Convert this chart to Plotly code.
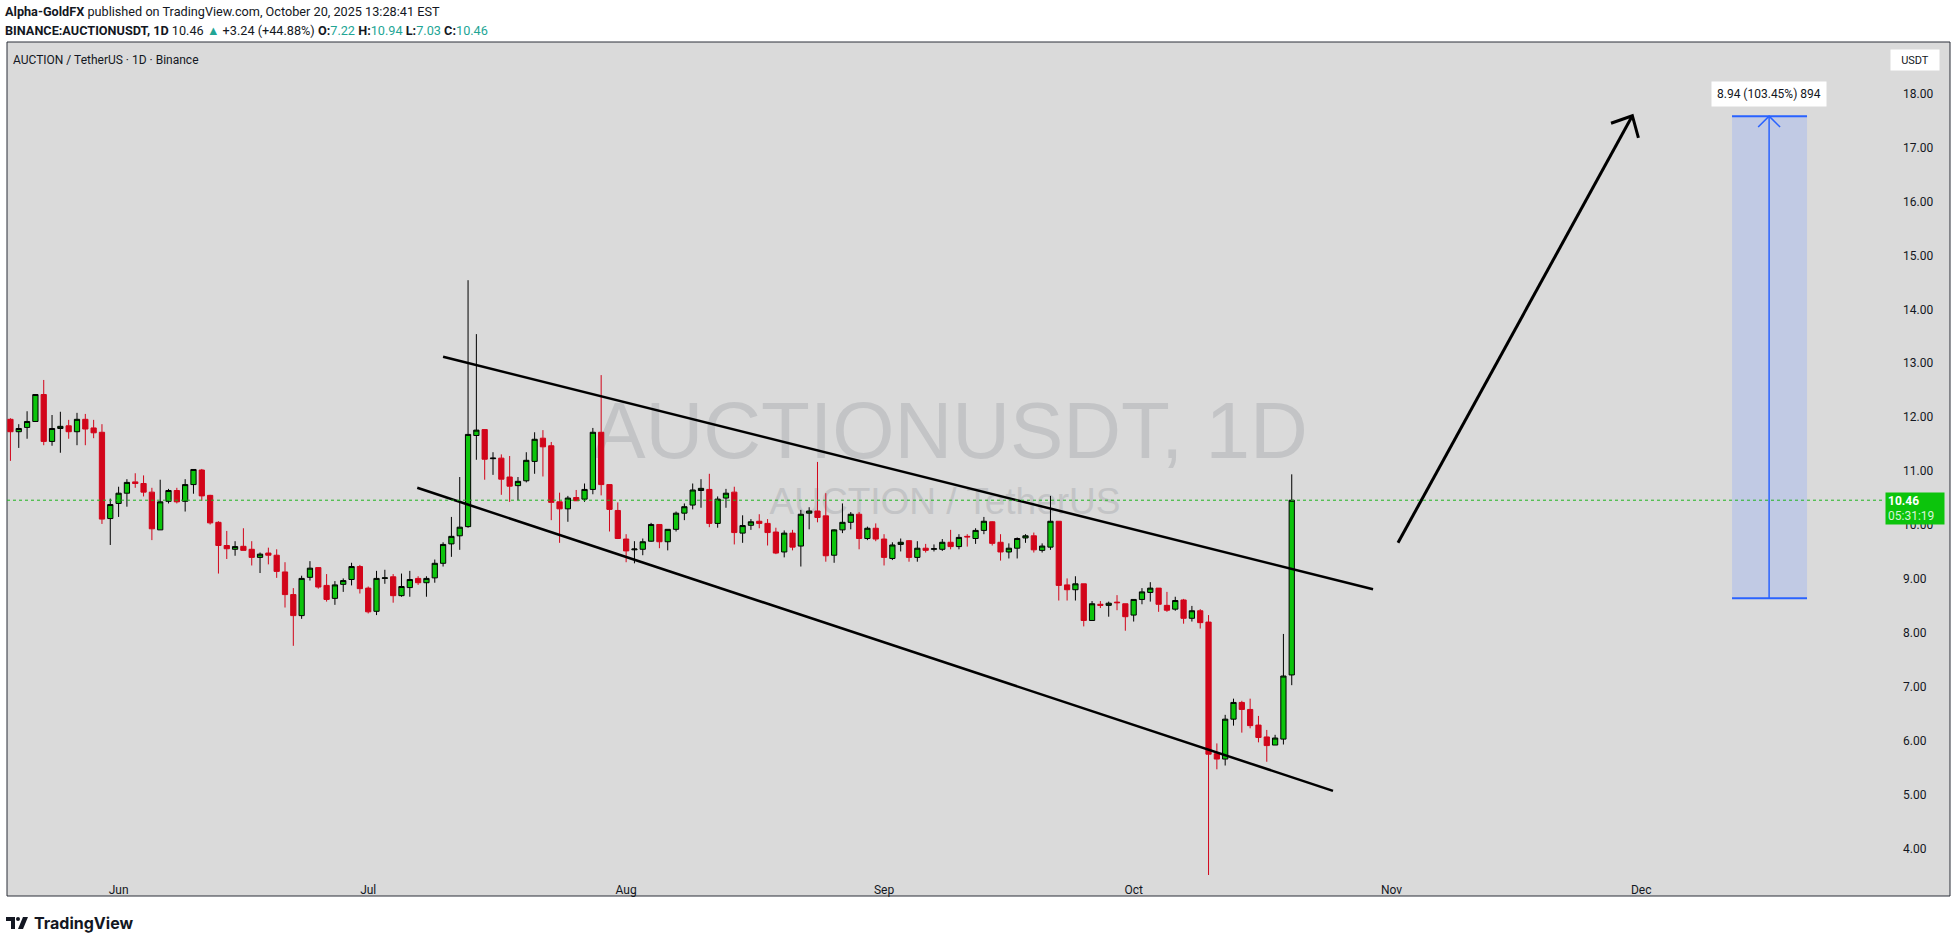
import plotly.graph_objects as go
import pandas as pd

# ── Data ─────────────────────────────────────────────
dates = pd.date_range("2025-05-19", "2025-10-20", freq="D")

opens = [
    11.96, 11.73, 11.81, 11.92, 12.42, 11.55, 11.79, 11.84, 11.73, 11.96,
    11.80, 11.72, 10.12, 10.40, 10.59, 10.80, 10.77, 10.61, 9.91, 10.44,
    10.64, 10.44, 10.75, 11.02, 10.55, 10.05, 9.62, 9.55, 9.605, 9.55,
    9.40, 9.48, 9.44, 9.13, 8.71, 8.32, 9.03, 9.21, 8.88, 8.64,
    8.90, 8.99, 9.23, 8.83, 8.40, 9.01, 9.04, 8.69, 8.84, 9.01,
    8.93, 9.02, 9.29, 9.65, 9.80, 9.97, 11.66, 11.77, 11.23, 11.24,
    10.89, 10.73, 10.82, 11.18, 11.61, 11.47, 10.43, 10.30, 10.51, 10.48,
    10.66, 11.72, 10.75, 10.27, 9.74, 9.54, 9.55, 9.70, 10.01, 9.69,
    9.92, 10.22, 10.37, 10.64, 10.66, 10.03, 10.50, 10.61, 9.85, 9.995,
    10.07, 10.03, 9.87, 9.50, 9.85, 9.61, 10.22, 10.26, 10.17, 9.44,
    9.91, 10.05, 10.20, 9.75, 9.94, 9.74, 9.38, 9.64, 9.71, 9.40,
    9.57, 9.55, 9.55, 9.68, 9.60, 9.79, 9.75, 9.90, 10.06, 9.68,
    9.50, 9.57, 9.76, 9.80, 9.53, 9.59, 10.07, 8.89, 8.80, 8.91,
    8.23, 8.53, 8.51, 8.57, 8.54, 8.33, 8.62, 8.75, 8.83, 8.51,
    8.44, 8.61, 8.27, 8.41, 8.20, 5.76, 5.66, 6.40, 6.71, 6.58,
    6.29, 6.07, 5.92, 6.03, 7.22,
]
highs = [
    11.98, 11.87, 12.11, 12.42, 12.69, 12.04, 12.10, 11.95, 12.08, 12.06,
    11.95, 11.87, 10.49, 10.71, 10.85, 10.96, 10.92, 10.69, 10.84, 10.67,
    10.69, 10.85, 11.03, 11.04, 10.56, 10.07, 9.89, 9.70, 9.94, 9.70,
    9.49, 9.58, 9.55, 9.31, 8.83, 9.06, 9.33, 9.22, 9.09, 8.96,
    9.01, 9.30, 9.26, 8.86, 9.15, 9.17, 9.09, 9.10, 9.15, 9.05,
    9.05, 9.36, 9.68, 10.15, 10.89, 14.54, 13.54, 11.77, 11.35, 11.31,
    11.28, 10.89, 11.35, 11.72, 11.76, 11.54, 10.60, 10.54, 10.65, 10.77,
    11.80, 12.78, 10.75, 10.42, 9.83, 9.70, 9.75, 10.04, 10.01, 9.92,
    10.25, 10.40, 10.77, 10.85, 10.95, 10.53, 10.67, 10.71, 10.18, 10.11,
    10.20, 10.11, 9.95, 9.90, 9.91, 10.28, 10.33, 11.17, 10.59, 9.92,
    10.40, 10.24, 10.24, 9.97, 10.03, 9.83, 9.68, 9.75, 9.72, 9.70,
    9.65, 9.64, 9.74, 9.91, 9.83, 9.83, 9.94, 10.15, 10.07, 9.83,
    9.66, 9.77, 9.83, 9.86, 9.66, 10.54, 10.07, 9.01, 9.05, 8.91,
    8.59, 8.59, 8.58, 8.70, 8.54, 8.62, 8.83, 8.94, 8.83, 8.76,
    8.67, 8.63, 8.50, 8.44, 8.33, 5.95, 6.48, 6.78, 6.74, 6.78,
    6.46, 6.20, 6.11, 7.98, 10.94,
]
lows = [
    11.19, 11.43, 11.60, 11.92, 11.48, 11.47, 11.34, 11.60, 11.48, 11.48,
    11.61, 10.02, 9.63, 10.15, 10.34, 10.69, 10.53, 9.72, 9.91, 10.40,
    10.40, 10.25, 10.58, 10.45, 10.01, 9.10, 9.37, 9.43, 9.53, 9.25,
    9.11, 9.27, 9.02, 8.47, 7.76, 8.26, 8.97, 8.82, 8.58, 8.52,
    8.76, 8.88, 8.73, 8.36, 8.33, 8.91, 8.56, 8.67, 8.67, 8.89,
    8.67, 8.93, 9.23, 9.41, 9.54, 9.95, 11.21, 10.84, 10.93, 10.56,
    10.43, 10.46, 10.79, 10.95, 10.90, 10.09, 9.67, 10.06, 10.45, 10.43,
    10.57, 10.55, 9.88, 9.74, 9.31, 9.29, 9.44, 9.69, 9.57, 9.53,
    9.88, 10.09, 10.29, 10.32, 9.96, 9.95, 10.32, 9.64, 9.67, 9.91,
    9.94, 9.62, 9.46, 9.40, 9.53, 9.23, 9.92, 10.05, 9.32, 9.30,
    9.85, 9.92, 9.55, 9.72, 9.70, 9.25, 9.35, 9.51, 9.32, 9.32,
    9.49, 9.51, 9.52, 9.55, 9.55, 9.60, 9.65, 9.83, 9.62, 9.34,
    9.38, 9.38, 9.67, 9.49, 9.49, 9.54, 8.60, 8.60, 8.60, 8.12,
    8.23, 8.46, 8.30, 8.42, 8.04, 8.21, 8.53, 8.58, 8.39, 8.39,
    8.41, 8.17, 8.21, 8.08, 3.51, 5.47, 5.54, 6.28, 6.15, 6.23,
    5.97, 5.61, 5.92, 5.93, 7.03,
]
closes = [
    11.73, 11.79, 11.92, 12.42, 11.55, 11.79, 11.83, 11.73, 11.96, 11.78,
    11.71, 10.11, 10.38, 10.59, 10.79, 10.77, 10.61, 9.93, 10.43, 10.64,
    10.43, 10.75, 11.03, 10.54, 10.04, 9.62, 9.56, 9.60, 9.53, 9.40,
    9.46, 9.44, 9.14, 8.71, 8.32, 9.01, 9.20, 8.85, 8.62, 8.89,
    8.97, 9.23, 8.82, 8.39, 9.01, 9.02, 8.69, 8.86, 8.99, 8.93,
    9.01, 9.29, 9.64, 9.79, 9.96, 11.68, 11.76, 11.22, 11.24, 10.85,
    10.72, 10.81, 11.20, 11.59, 11.45, 10.42, 10.30, 10.50, 10.45, 10.66,
    11.72, 10.75, 10.29, 9.75, 9.52, 9.555, 9.69, 10.01, 9.69, 9.92,
    10.22, 10.34, 10.65, 10.68, 10.03, 10.48, 10.59, 9.86, 9.99, 10.06,
    10.03, 9.86, 9.48, 9.85, 9.59, 10.20, 10.26, 10.14, 9.43, 9.91,
    10.05, 10.20, 9.75, 9.94, 9.74, 9.40, 9.63, 9.68, 9.40, 9.57,
    9.53, 9.56, 9.68, 9.60, 9.77, 9.78, 9.90, 10.07, 9.66, 9.50,
    9.57, 9.75, 9.80, 9.54, 9.61, 10.07, 8.88, 8.80, 8.91, 8.23,
    8.54, 8.51, 8.55, 8.56, 8.30, 8.62, 8.76, 8.83, 8.53, 8.42,
    8.60, 8.27, 8.41, 8.19, 5.75, 5.66, 6.40, 6.71, 6.58, 6.28,
    6.06, 5.91, 6.05, 7.20, 10.46,
]

last_price = 10.46
price_ticks = [4, 5, 6, 7, 8, 9, 10, 11, 12, 13, 14, 15, 16, 17, 18]
month_ticks = ["2025-06-01", "2025-07-01", "2025-08-01", "2025-09-01",
               "2025-10-01", "2025-11-01", "2025-12-01"]
month_labels = ["Jun", "Jul", "Aug", "Sep", "Oct", "Nov", "Dec"]

# drawings (channel, arrow, measure tool)
upper_line_x = ["2025-07-10 00:00", "2025-10-29 18:30"]
upper_line_y = [13.12, 8.81]
lower_line_x = ["2025-07-06 21:30", "2025-10-24 23:00"]
lower_line_y = [10.69, 5.07]
arrow_x = ["2025-11-01 18:30", "2025-11-29 22:30"]
arrow_y = [9.67, 17.59]
arrow_head_x = ["2025-11-27 09:00", "2025-11-29 22:30", "2025-11-30 16:00"]
arrow_head_y = [17.45, 17.59, 17.18]
measure_x = ["2025-12-11 22:00", "2025-12-20 22:20"]
measure_mid = "2025-12-16 09:00"
measure_low, measure_high = 8.642, 17.582
measure_head_x = ["2025-12-15 01:20", "2025-12-16 09:00", "2025-12-17 16:40"]
measure_head_y = [17.38, 17.582, 17.38]
measure_text = "8.94 (103.45%) 894"

# ── Colours / frame geometry ─────────────────────────
COLOR_UP = "#0cc40c"
COLOR_DOWN = "#d2051a"
COLOR_BG = "#dadada"
COLOR_TEXT = "#131722"
COLOR_TEAL = "#22a595"
COLOR_BLUE = "#2962ff"
WATERMARK = "#c3c4c6"

W, H = 1957, 941
L, R, T, B = 7, 1860, 42, 877


def px(x):
    return (x - L) / (R - L)


def py(y):
    return (B - y) / (B - T)


def note(x, y, text, **kw):
    # paper-positioned text, given in page pixels
    kw.setdefault("xanchor", "left")
    kw.setdefault("yanchor", "middle")
    fig.add_annotation(x=px(x), y=py(y), xref="paper", yref="paper",
                       text=text, showarrow=False, **kw)


fig = go.Figure()

# ── Candles ──────────────────────────────────────────
fig.add_trace(go.Candlestick(
    x=dates, open=opens, high=highs, low=lows, close=closes,
    increasing=dict(line=dict(color="#000000", width=1), fillcolor=COLOR_UP),
    decreasing=dict(line=dict(color=COLOR_DOWN, width=1), fillcolor=COLOR_DOWN),
    whiskerwidth=0, hoverinfo="skip", name="AUCTIONUSDT",
))

# ── Channel lines + arrow ────────────────────────────
for xs, ys, w in [(upper_line_x, upper_line_y, 2.5), (lower_line_x, lower_line_y, 2.5),
                  (arrow_x, arrow_y, 3), (arrow_head_x, arrow_head_y, 3)]:
    fig.add_trace(go.Scatter(x=xs, y=ys, mode="lines",
                             line=dict(color="#000000", width=w),
                             hoverinfo="skip", showlegend=False))

# ── Measure tool ─────────────────────────────────────
fig.add_shape(type="rect", xref="x", yref="y",
              x0=measure_x[0], x1=measure_x[1], y0=measure_low, y1=measure_high,
              fillcolor="#c1cae4", line_width=0, layer="below")
for yv in (measure_low, measure_high):
    fig.add_trace(go.Scatter(x=measure_x, y=[yv, yv], mode="lines",
                             line=dict(color=COLOR_BLUE, width=2),
                             hoverinfo="skip", showlegend=False))
fig.add_trace(go.Scatter(x=[measure_mid, measure_mid], y=[measure_low, measure_high],
                         mode="lines", line=dict(color=COLOR_BLUE, width=1.5),
                         hoverinfo="skip", showlegend=False))
fig.add_trace(go.Scatter(x=measure_head_x, y=measure_head_y, mode="lines",
                         line=dict(color=COLOR_BLUE, width=1.5),
                         hoverinfo="skip", showlegend=False))
fig.add_annotation(x=measure_mid, y=measure_high, xref="x", yref="y", yshift=22,
                   xanchor="center", yanchor="middle",
                   text=measure_text, showarrow=False, bgcolor="white",
                   borderpad=5, font=dict(size=12, color=COLOR_TEXT, family="Roboto"))

# ── Frame, watermark, price line ─────────────────────
fig.add_shape(type="rect", xref="paper", yref="paper",
              x0=px(7), x1=px(1950), y0=py(896), y1=py(42),
              fillcolor=COLOR_BG, line=dict(color="#2a2e39", width=1), layer="below")
fig.add_shape(type="rect", xref="paper", yref="paper",
              x0=px(565), x1=px(1335), y0=py(464), y1=py(380),
              line_width=0, fillcolor="rgba(0,0,0,0)", layer="below",
              label=dict(text="AUCTIONUSDT, 1D", textposition="middle center",
                         font=dict(size=80, color=WATERMARK, family="Liberation Sans")))
fig.add_shape(type="rect", xref="paper", yref="paper",
              x0=px(700), x1=px(1190), y0=py(520), y1=py(475),
              line_width=0, fillcolor="rgba(0,0,0,0)", layer="below",
              label=dict(text="AUCTION / TetherUS", textposition="middle center",
                         font=dict(size=37, color=WATERMARK, family="Liberation Sans")))
fig.add_shape(type="line", xref="paper", yref="y", x0=0, x1=px(1884),
              y0=last_price, y1=last_price,
              line=dict(color="#1fb51f", width=1, dash="dot"))

# ── Price axis labels ────────────────────────────────
note(1915, 60, "USDT", xanchor="center", bgcolor="white", width=46, height=18,
     font=dict(size=11, color=COLOR_TEXT, family="Roboto"))
fig.add_annotation(x=px(1915), y=last_price, xref="paper", yref="y",
                   xanchor="center", yanchor="top", yshift=8, showarrow=False,
                   text="<b>10.46</b><br><span style='color:#d8f5d8'>05:31:19</span>",
                   bgcolor=COLOR_UP, width=54, height=27, align="left", borderpad=2,
                   font=dict(size=12, color="white", family="Roboto"))

# ── Header texts ─────────────────────────────────────
header_font = dict(size=12.7, color=COLOR_TEXT, family="Roboto")
note(3, 12, "<b>Alpha-GoldFX</b> published on TradingView.com, October 20, 2025 13:28:41 EST",
     font=header_font)
note(3, 30,
     f"<b>BINANCE:AUCTIONUSDT, 1D</b> 10.46 <span style='color:{COLOR_TEAL}'>▲</span>"
     f" +3.24 (+44.88%) <b>O:</b><span style='color:{COLOR_TEAL}'>7.22</span>"
     f" <b>H:</b><span style='color:{COLOR_TEAL}'>10.94</span>"
     f" <b>L:</b><span style='color:{COLOR_TEAL}'>7.03</span>"
     f" <b>C:</b><span style='color:{COLOR_TEAL}'>10.46</span>",
     font=header_font)
note(11, 60, "AUCTION / TetherUS · 1D · Binance",
     font=dict(size=12, color=COLOR_TEXT, family="Roboto"))

# ── TradingView footer logo ──────────────────────────
fig.add_shape(type="path", xref="paper", yref="paper",
              path=(f"M {px(6)},{py(917)} L {px(15)},{py(917)} L {px(15)},{py(929)} "
                    f"L {px(11)},{py(929)} L {px(11)},{py(921)} L {px(6)},{py(921)} Z"),
              fillcolor=COLOR_TEXT, line_width=0)
fig.add_shape(type="circle", xref="paper", yref="paper",
              x0=px(16), x1=px(20), y0=py(921), y1=py(917),
              fillcolor=COLOR_TEXT, line_width=0)
fig.add_shape(type="path", xref="paper", yref="paper",
              path=(f"M {px(23)},{py(917)} L {px(28)},{py(917)} L {px(23)},{py(929)} "
                    f"L {px(18)},{py(929)} Z"),
              fillcolor=COLOR_TEXT, line_width=0)
note(32, 923, "<b>TradingView</b>", font=dict(size=16, color=COLOR_TEXT, family="Inter"))

# ── Layout ───────────────────────────────────────────
fig.update_layout(
    width=W, height=H,
    margin=dict(l=L, r=W - R, t=T, b=H - B),
    paper_bgcolor="white",
    plot_bgcolor="rgba(0,0,0,0)",
    showlegend=False,
    boxgap=0.3, boxgroupgap=0.1,
    font=dict(family="Roboto", color=COLOR_TEXT, size=12),
    xaxis=dict(
        type="date", range=["2025-05-18 14:05", "2025-12-27 07:10"],
        rangeslider_visible=False, showgrid=False, zeroline=False, showline=False,
        tickvals=month_ticks, ticktext=month_labels, ticks="",
        ticklabelstandoff=4, tickfont=dict(size=12, color=COLOR_TEXT),
    ),
    yaxis=dict(
        range=[3.473, 18.957], side="right", showgrid=False, zeroline=False,
        showline=False, tickvals=price_ticks, tickformat=".2f", ticks="",
        ticklabelstandoff=42, tickfont=dict(size=12, color=COLOR_TEXT),
    ),
)

# page body margin would push the chart 8px off the window corner
fig.write_html("out.html", config={"displayModeBar": False},
               post_script="document.body.style.margin='0';")
